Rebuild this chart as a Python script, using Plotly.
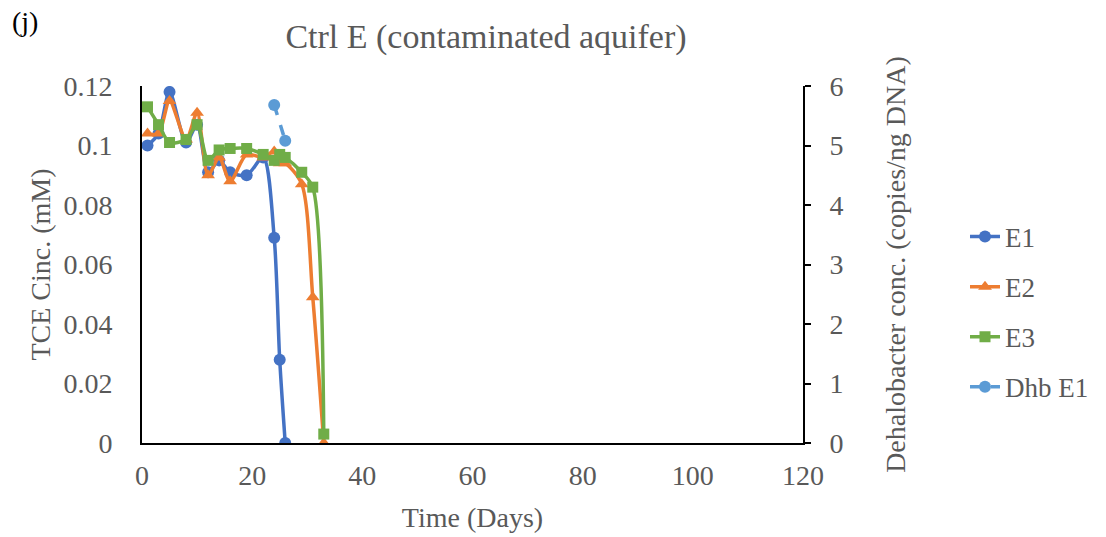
import plotly.graph_objects as go

days_e1 = [1, 3, 5, 8, 10, 12, 14, 16, 19, 22, 24, 25, 26]
e1 = [0.100, 0.104, 0.118, 0.101, 0.107, 0.091, 0.095, 0.091, 0.090, 0.096, 0.069, 0.028, 0.0]
days_e23 = [1, 3, 5, 8, 10, 12, 14, 16, 19, 22, 24, 25, 26, 29, 31, 33]
e2 = [0.104, 0.104, 0.115, 0.102, 0.111, 0.090, 0.096, 0.088, 0.097, 0.096, 0.098, 0.094, 0.094, 0.087, 0.049, 0.0]
e3 = [0.113, 0.107, 0.101, 0.102, 0.107, 0.095, 0.0985, 0.099, 0.099, 0.097, 0.095, 0.097, 0.096, 0.091, 0.086, 0.003]
days_dhb = [24, 26]
dhb_e1 = [5.68, 5.08]

FONT = "Liberation Serif"
GRAY = "#595959"
L, R, T, B = 142, 303, 86, 94
W, H = 1106, 537
PW, PH = W - L - R, H - T - B

fig = go.Figure()
fig.add_trace(go.Scatter(x=days_e1, y=e1, name="E1", mode="lines+markers",
                         line=dict(color="#4472C4", width=3.5, shape="spline", smoothing=0.8),
                         marker=dict(symbol="circle", size=12, color="#4472C4"),
                         legendgroup="a"))
fig.add_trace(go.Scatter(x=days_e23, y=e2, name="E2", mode="lines+markers",
                         line=dict(color="#ED7D31", width=3.5, shape="spline", smoothing=0.8),
                         marker=dict(symbol="triangle-up", size=12, color="#ED7D31"),
                         legendgroup="b"))
fig.add_trace(go.Scatter(x=days_e23, y=e3, name="E3", mode="lines+markers",
                         line=dict(color="#70AD47", width=3.5, shape="spline", smoothing=0.8),
                         marker=dict(symbol="square", size=11, color="#70AD47"),
                         legendgroup="c"))
fig.add_trace(go.Scatter(x=days_dhb, y=dhb_e1, name="Dhb E1", mode="lines+markers",
                         line=dict(color="#5B9BD5", width=3.5, dash="dash"),
                         marker=dict(symbol="circle", size=12, color="#5B9BD5"),
                         yaxis="y2", legendgroup="d"))

fig.update_layout(
    width=W, height=H,
    margin=dict(l=L, r=R, t=T, b=B, autoexpand=False),
    plot_bgcolor="white", paper_bgcolor="white",
    font=dict(family=FONT, size=28, color=GRAY),
    title=dict(text="Ctrl E (contaminated aquifer)", x=486 / W, xanchor="center",
               y=1 - 36 / H, yanchor="middle", font=dict(family=FONT, size=34, color=GRAY)),
    xaxis=dict(range=[0, 120], dtick=20, showgrid=False, zeroline=False, automargin=False,
               showline=True, linecolor="black", linewidth=2, ticks="",
               ticklabelstandoff=6,
               title=dict(text="Time (Days)", standoff=18, font=dict(size=28)),
               tickfont=dict(size=28, color=GRAY)),
    yaxis=dict(range=[0, 0.12], dtick=0.02, showgrid=False, zeroline=False, automargin=False,
               showline=True, linecolor="black", linewidth=2, ticks="",
               ticklabelstandoff=22,
               title=dict(text="TCE Cinc. (mM)", standoff=5, font=dict(size=28)),
               tickfont=dict(size=28, color=GRAY)),
    yaxis2=dict(range=[0, 6], dtick=1, overlaying="y", side="right", showgrid=False,
                zeroline=False, showline=True, linecolor="black", linewidth=2, automargin=False,
                ticks="outside", ticklen=6, tickcolor="black", tickwidth=2,
                ticklabelstandoff=13,
                title=dict(text="Dehalobacter conc. (copies/ng DNA)", standoff=43, font=dict(size=28)),
                tickfont=dict(size=28, color=GRAY)),
    legend=dict(x=(965 - L) / PW, y=1 - (312 - T) / PH, xanchor="left", yanchor="middle",
                font=dict(family=FONT, size=27, color=GRAY),
                tracegroupgap=12, bgcolor="rgba(0,0,0,0)"),
    annotations=[dict(text="(j)", x=(10 - L) / PW, y=(H - B - 22) / PH, xref="paper", yref="paper",
                      xanchor="left", yanchor="middle", showarrow=False,
                      font=dict(family=FONT, size=28, color="black"))],
)

fig.write_html("out.html")
